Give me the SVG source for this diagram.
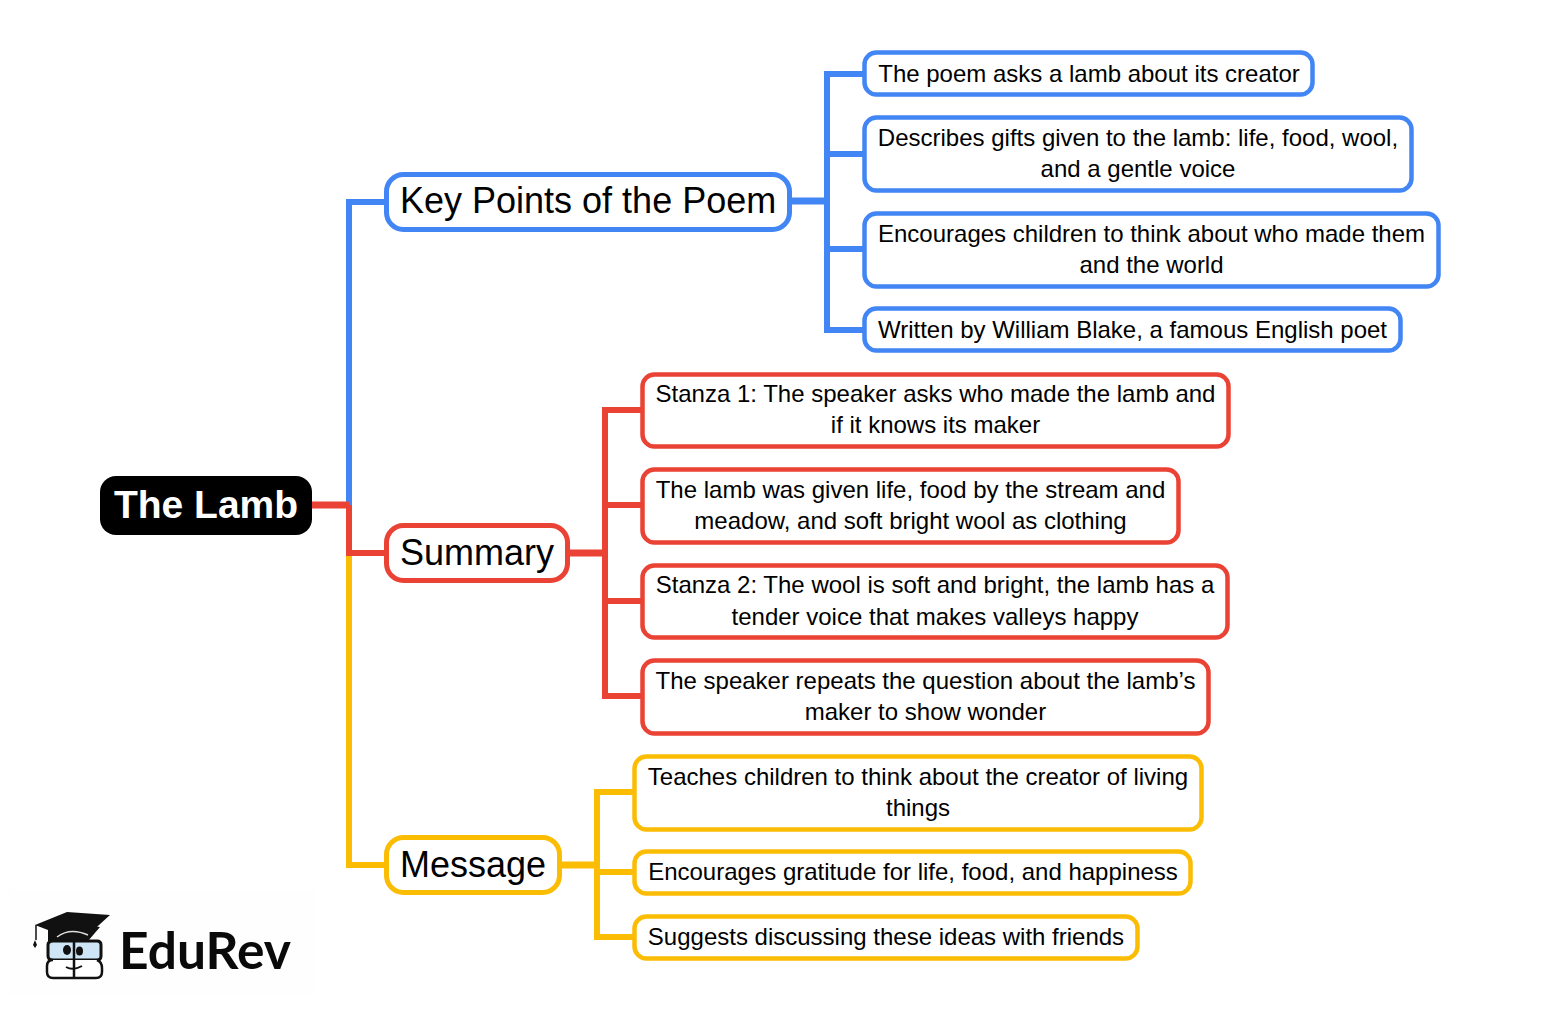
<svg xmlns="http://www.w3.org/2000/svg" width="1541" height="1011" viewBox="0 0 1541 1011">
<style>
text{font-family:"Liberation Sans",Arial,sans-serif;fill:#000}
.t{font-size:24px;text-anchor:middle}
.h{font-size:36px}
.n{fill:#fff;stroke-width:5}
.l{fill:#fff;stroke-width:4.500}
.b{stroke:#4285f4}.r{stroke:#ea4335}.y{stroke:#fbbc04}
.c{fill:none;stroke-width:6}
.s{fill:none;stroke-width:7}
</style>
<rect width="1541" height="1011" fill="#fff"/>
<g id="connectors">
<path class="c b" d="M387 202H349V505"/>
<path class="c y" d="M349 553V865H387"/>
<path class="c r" d="M349 505V553H387"/>
<path class="s r" d="M312 505H349"/>
<path class="s b" d="M790 201H827"/>
<path class="c b" d="M865 74H827V330H865M827 154H865M827 249H865"/>
<path class="s r" d="M568 553H605"/>
<path class="c r" d="M643 410H605V696H643M605 505H643M605 601H643"/>
<path class="s y" d="M560 865H597"/>
<path class="c y" d="M635 792H597V937H635M597 872H635"/>
</g>
<g id="root"><rect x="100" y="476" width="212" height="59" rx="16" fill="#000"/><text x="206" y="518" font-size="39" font-weight="bold" text-anchor="middle" style="fill:#fff">The Lamb</text></g>
<g id="key"><rect class="n b" x="386.500" y="174.500" width="403" height="55" rx="17"/><text class="h" x="400" y="213">Key Points of the Poem</text></g>
<g id="summary"><rect class="n r" x="386.500" y="525.500" width="181" height="55" rx="17"/><text class="h" x="400" y="565">Summary</text></g>
<g id="message"><rect class="n y" x="386.500" y="837.500" width="173" height="55" rx="17"/><text class="h" x="400" y="877">Message</text></g>
<g id="k1"><rect class="l b" x="864.500" y="52.500" width="448" height="42" rx="12"/><text class="t" x="1089" y="82">The poem asks a lamb about its creator</text></g>
<g id="k2"><rect class="l b" x="864.500" y="117.500" width="547" height="73" rx="12"/><text class="t" x="1138" y="146">Describes gifts given to the lamb: life, food, wool,</text><text class="t" x="1138" y="177">and a gentle voice</text></g>
<g id="k3"><rect class="l b" x="864.500" y="213.500" width="574" height="73" rx="12"/><text class="t" x="1151.500" y="242">Encourages children to think about who made them</text><text class="t" x="1151.500" y="273">and the world</text></g>
<g id="k4"><rect class="l b" x="864.500" y="308.500" width="536" height="42" rx="12"/><text class="t" x="1132.500" y="338">Written by William Blake, a famous English poet</text></g>
<g id="s1"><rect class="l r" x="642.500" y="374.500" width="586" height="72" rx="12"/><text class="t" x="935.500" y="402">Stanza 1: The speaker asks who made the lamb and</text><text class="t" x="935.500" y="433">if it knows its maker</text></g>
<g id="s2"><rect class="l r" x="642.500" y="469.500" width="536" height="73" rx="12"/><text class="t" x="910.500" y="498">The lamb was given life, food by the stream and</text><text class="t" x="910.500" y="529">meadow, and soft bright wool as clothing</text></g>
<g id="s3"><rect class="l r" x="642.500" y="565.500" width="585" height="72" rx="12"/><text class="t" x="935" y="593">Stanza 2: The wool is soft and bright, the lamb has a</text><text class="t" x="935" y="625">tender voice that makes valleys happy</text></g>
<g id="s4"><rect class="l r" x="642.500" y="660.500" width="566" height="73" rx="12"/><text class="t" x="925.500" y="689">The speaker repeats the question about the lamb’s</text><text class="t" x="925.500" y="720">maker to show wonder</text></g>
<g id="m1"><rect class="l y" x="634.500" y="756.500" width="567" height="73" rx="12"/><text class="t" x="918" y="785">Teaches children to think about the creator of living</text><text class="t" x="918" y="816">things</text></g>
<g id="m2"><rect class="l y" x="634.500" y="851.500" width="556" height="42" rx="12"/><text class="t" x="913" y="880">Encourages gratitude for life, food, and happiness</text></g>
<g id="m3"><rect class="l y" x="634.500" y="916.500" width="503" height="42" rx="12"/><text class="t" x="886" y="945">Suggests discussing these ideas with friends</text></g>
<g id="logo">
<rect x="10" y="890" width="305" height="105" fill="#fefefe"/>
<path d="M48 927L70 922L100 927L88 941H48Z" fill="#111"/>
<path d="M35 925L67 912L110 915L88 935L70 925L48 930Z" fill="#111"/>
<path d="M57 937Q70 927 88 935" fill="none" stroke="#ddd" stroke-width="1.500"/>
<path d="M36 925V940" stroke="#111" stroke-width="1.500" fill="none"/>
<path d="M35 940L33 945L35 948L37 945Z" fill="#111"/>
<path d="M53 941H97Q101 941 101 945V956Q101 960 97 960H53Q48 960 48 956V945Q48 941 53 941Z" fill="#cfe6f7" stroke="#111" stroke-width="3"/>
<path d="M97 960Q102 962 102 968V972Q102 978 96 978H53Q47 978 47 972V966Q47 960 53 960M74 941V978" fill="#fff" stroke="#111" stroke-width="2.500"/>
<ellipse cx="67" cy="950" rx="4" ry="5" fill="#111"/><ellipse cx="79.500" cy="951" rx="3.500" ry="4.500" fill="#111"/>
<path d="M66 967Q73 971 82 966" fill="none" stroke="#111" stroke-width="2"/>
<text x="119" y="968.500" font-size="51.500" font-weight="bold" style="font-family:Lato,'Noto Sans',sans-serif;fill:#0a0a0a">EduRev</text>
</g>
</svg>
